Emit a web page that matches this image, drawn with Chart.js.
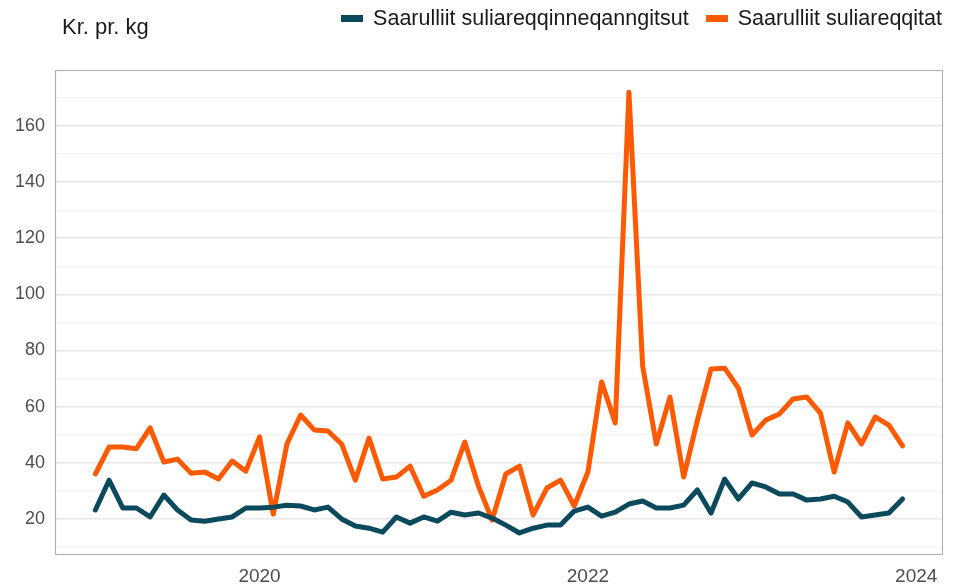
<!DOCTYPE html>
<html>
<head>
<meta charset="utf-8">
<script src="https://cdn.jsdelivr.net/npm/chart.js@4"></script>
<style>
  html, body { margin: 0; padding: 0; background: #fff; }
  #wrap { position: relative; width: 956px; height: 588px; font-family: "Liberation Sans", Arial, sans-serif; }
  #c { position: absolute; left: 0; top: 0; }
  #ytitle { position: absolute; left: 62px; top: 14px; font-size: 22px; color: #1a1a1a; }
  #legend { position: absolute; right: 14px; top: 6px; font-size: 21.5px; color: #1a1a1a; display: flex; align-items: center; white-space: nowrap; }
  .sw { display: inline-block; width: 22px; height: 7px; margin-right: 10px; }
  .item { display: flex; align-items: center; margin-left: 17px; }
</style>
</head>
<body>
<div id="wrap">
  <canvas id="c" width="956" height="588"></canvas>
  <div id="ytitle">Kr. pr. kg</div>
  <div id="legend"></div>
</div>
<script>
const months = [
  '2019-01','2019-02','2019-03','2019-04','2019-05','2019-06','2019-07','2019-08','2019-09','2019-10','2019-11','2019-12',
  '2020-01','2020-02','2020-03','2020-04','2020-05','2020-06','2020-07','2020-08','2020-09','2020-10','2020-11','2020-12',
  '2021-01','2021-02','2021-03','2021-04','2021-05','2021-06','2021-07','2021-08','2021-09','2021-10','2021-11','2021-12',
  '2022-01','2022-02','2022-03','2022-04','2022-05','2022-06','2022-07','2022-08','2022-09','2022-10','2022-11','2022-12',
  '2023-01','2023-02','2023-03','2023-04','2023-05','2023-06','2023-07','2023-08','2023-09','2023-10','2023-11','2023-12'
];
const seriesNames = ['Saarulliit suliareqqinneqanngitsut', 'Saarulliit suliareqqitat'];
const unprocessed = [
  23.2, 33.8, 23.9, 23.9, 20.7, 28.5, 23.2, 19.6, 19.2, 20.0, 20.7, 23.9,
  23.9, 24.2, 24.9, 24.6, 23.2, 24.2, 20.0, 17.5, 16.7, 15.3, 20.7, 18.5,
  20.7, 19.2, 22.4, 21.4, 22.1, 20.3, 17.8, 15.0, 16.7, 17.8, 17.8, 22.8,
  24.2, 21.0, 22.4, 25.3, 26.4, 23.9, 23.9, 24.9, 30.3, 22.1, 34.2, 27.1,
  32.8, 31.4, 28.9, 28.9, 26.7, 27.1, 28.1, 26.0, 20.7, 21.4, 22.1, 27.1
];
const processed = [
  36.0, 45.6, 45.6, 45.0, 52.4, 40.3, 41.3, 36.3, 36.7, 34.2, 40.6, 37.0,
  49.2, 21.7, 46.7, 57.0, 51.7, 51.3, 46.7, 33.8, 48.8, 34.2, 34.9, 38.8,
  28.1, 30.3, 33.8, 47.4, 31.7, 19.6, 36.0, 38.8, 21.4, 31.0, 33.8, 24.6,
  36.7, 68.8, 54.2, 172.0, 74.5, 46.7, 63.4, 34.9, 55.0, 73.4, 73.7, 66.6,
  49.9, 55.2, 57.4, 62.7, 63.4, 57.7, 36.7, 54.2, 46.7, 56.3, 53.4, 46.0
];
const colors = ['#0b4a5c', '#ff5a00'];
const yTicks = [10, 20, 30, 40, 50, 60, 70, 80, 90, 100, 110, 120, 130, 140, 150, 160, 170];
const xTicks = [2020, 2022, 2024];

function toYear(m) { const p = m.split('-'); return +p[0] + (+p[1] - 1) / 12; }
function pts(vals) { return vals.map((v, i) => ({ x: toYear(months[i]), y: v })); }

const leg = document.getElementById('legend');
seriesNames.forEach((n, i) => {
  const d = document.createElement('div'); d.className = 'item';
  const s = document.createElement('span'); s.className = 'sw'; s.style.background = colors[i];
  const t = document.createElement('span'); t.textContent = n;
  d.appendChild(s); d.appendChild(t); leg.appendChild(d);
});

const frame = {
  id: 'frame',
  afterDraw(chart) {
    const a = chart.chartArea, ctx = chart.ctx;
    ctx.save();
    ctx.strokeStyle = '#b3b3b3';
    ctx.lineWidth = 1.2;
    ctx.strokeRect(a.left + 0.5, a.top + 0.5, a.right - a.left - 1, a.bottom - a.top - 1);
    ctx.restore();
  }
};

new Chart(document.getElementById('c'), {
  type: 'line',
  data: {
    datasets: [
      { label: seriesNames[0], data: pts(unprocessed), borderColor: colors[0], backgroundColor: colors[0], borderWidth: 5, pointRadius: 0, borderJoinStyle: 'round', borderCapStyle: 'round', tension: 0 },
      { label: seriesNames[1], data: pts(processed), borderColor: colors[1], backgroundColor: colors[1], borderWidth: 5, pointRadius: 0, borderJoinStyle: 'round', borderCapStyle: 'round', tension: 0 }
    ]
  },
  options: {
    responsive: false,
    animation: false,
    layout: { padding: { top: 70, right: 13, left: 0, bottom: 0 } },
    plugins: { legend: { display: false }, tooltip: { enabled: false }, title: { display: false } },
    scales: {
      x: {
        type: 'linear',
        min: 2018.754, max: 2024.163,
        afterBuildTicks(s) { s.ticks = xTicks.map(v => ({ value: v })); },
        afterFit(s) { s.height = 33; },
        grid: { display: false, drawTicks: false },
        border: { display: false },
        ticks: { padding: 10, color: '#4d4d4d', font: { family: 'Liberation Sans', size: 19 }, callback: v => String(v), maxRotation: 0, autoSkip: false }
      },
      y: {
        min: 7.15, max: 179.9,
        afterBuildTicks(s) { s.ticks = yTicks.map(v => ({ value: v })); },
        afterFit(s) { s.width = 55; },
        grid: {
          drawTicks: false,
          color: c => (c.tick && c.tick.value % 20 === 0) ? '#e8e8e8' : '#f3f3f3',
          lineWidth: c => (c.tick && c.tick.value % 20 === 0) ? 1.6 : 1
        },
        border: { display: false },
        ticks: { padding: 10, color: '#4d4d4d', font: { family: 'Liberation Sans', size: 18 }, autoSkip: false, callback: v => (v % 20 === 0 ? String(v) : '') }
      }
    }
  },
  plugins: [frame]
});
</script>
</body>
</html>
